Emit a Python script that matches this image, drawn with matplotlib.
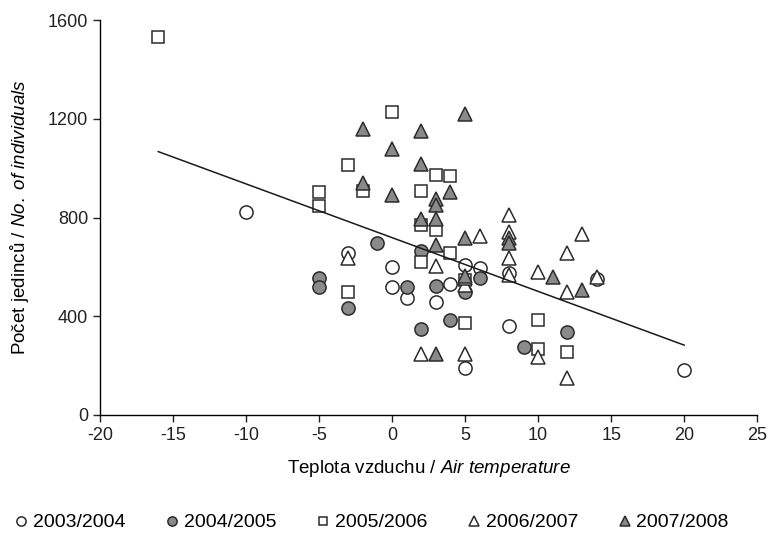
import matplotlib
matplotlib.use('Agg')
from matplotlib import pyplot as plt

plt.rcParams['font.family'] = ['Liberation Sans', 'DejaVu Sans']
plt.rcParams['axes.unicode_minus'] = False
plt.rcParams['mathtext.fontset'] = 'custom'
plt.rcParams['mathtext.rm'] = 'Liberation Sans'
plt.rcParams['mathtext.it'] = 'Liberation Sans:italic'

# 2003/2004 - open circles
t_0304 = [-10, -3, 0, 0, 1, 3, 4, 5, 6, 5, 8, 8, 14, 20]
n_0304 = [822, 657, 601, 520, 472, 456, 532, 606, 594, 189, 362, 576, 552, 182]

# 2004/2005 - grey circles
t_0405 = [-5, -5, -3, -1, 1, 2, 2, 3, 4, 5, 6, 9, 12]
n_0405 = [557, 520, 432, 695, 520, 348, 665, 524, 385, 500, 556, 277, 337]

# 2005/2006 - open squares
t_0506 = [-16, -5, -5, -3, -3, -2, 0, 2, 2, 2, 3, 3, 4, 4, 5, 5, 10, 10, 12]
n_0506 = [1530, 905, 848, 1012, 498, 908, 1228, 908, 768, 621, 972, 749, 968, 657, 548, 374, 385, 267, 256]

# 2006/2007 - open triangles
t_0607 = [-3, 2, 3, 5, 5, 6, 8, 8, 8, 8, 10, 10, 12, 12, 12, 13, 14, 5]
n_0607 = [635, 246, 603, 246, 527, 725, 810, 742, 635, 567, 580, 236, 655, 500, 149, 732, 558, 555]

# 2007/2008 - grey triangles
t_0708 = [5, -2, 2, 0, 2, -2, 0, 4, 3, 3, 2, 3, 3, 5, 3, 5, 8, 8, 11, 13]
n_0708 = [1219, 1158, 1152, 1077, 1017, 938, 891, 905, 877, 850, 796, 796, 689, 717, 246, 562, 717, 697, 560, 506]

# regression line
trend_t = [-16, 20]
trend_n = [1067, 283]

fig = plt.figure(figsize=(7.68, 5.33), dpi=100)
ax = fig.add_axes([0.130, 0.2214, 0.856, 0.741])

edge = '#2b2b2b'
grey = '#8a8a8a'
ms = 9.5
lw = 1.1

ax.plot(t_0304, n_0304, 'o', ms=ms, mfc='white', mec=edge, mew=lw, label='2003/2004')
ax.plot(t_0405, n_0405, 'o', ms=ms, mfc=grey, mec=edge, mew=lw, label='2004/2005')
ax.plot(t_0506, n_0506, 's', ms=ms - 0.5, mfc='white', mec=edge, mew=lw, label='2005/2006')
ax.plot(t_0607, n_0607, '^', ms=ms + 0.5, mfc='white', mec=edge, mew=lw, label='2006/2007')
ax.plot(t_0708, n_0708, '^', ms=ms + 0.5, mfc=grey, mec=edge, mew=lw, label='2007/2008')
ax.plot(trend_t, trend_n, '-', color='#1a1a1a', lw=1.1)

ax.set_xlim(-20, 25)
ax.set_ylim(0, 1600)
ax.set_xticks(range(-20, 30, 5))
ax.set_yticks(range(0, 1601, 400))
ax.spines['top'].set_visible(False)
ax.spines['right'].set_visible(False)
ax.spines['left'].set_linewidth(1.0)
ax.spines['bottom'].set_linewidth(1.0)
ax.tick_params(direction='out', length=5, width=1.0, labelsize=13, colors='#222222')

ax.set_xlabel('Teplota vzduchu / $\\it{Air\\ temperature}$', fontsize=13.5, labelpad=10)
ax.set_ylabel('Počet jedinců / $\\it{No.\\ of\\ individuals}$', fontsize=13.5, labelpad=12)

fig.legend(loc='lower center', bbox_to_anchor=(0.482, -0.03), ncol=5, frameon=False,
           fontsize=14, markerscale=0.7, handletextpad=0.1, columnspacing=1.9,
           handlelength=1.0)

fig.savefig('out.png', dpi=100)
